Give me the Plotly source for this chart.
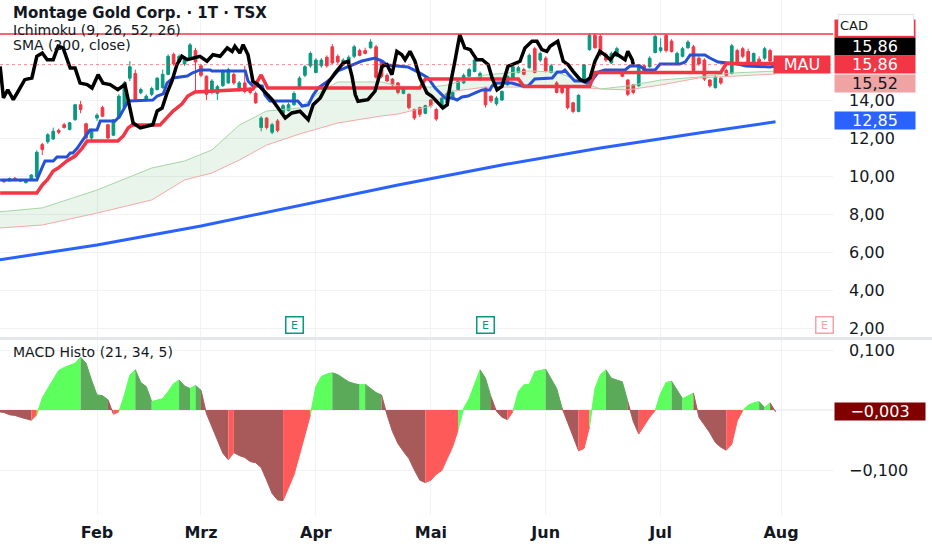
import plotly.graph_objects as go

# Montage Gold Corp. (MAU, TSX) - Tageskerzen mit Ichimoku, SMA 200 und MACD-Histogramm
# x-Achse = Bar-Index (Handelstage ab Anfang Januar, ohne Luecken wie bei TradingView)

months = ["Feb", "Mrz", "Apr", "Mai", "Jun", "Jul", "Aug"]
month_start = [18, 37, 58, 79, 100, 121, 143]
earnings_bar = [54, 89, 151]

opens = [9.72, 9.80, 9.74, 9.88, 9.80, 9.66, 9.80, 9.95, 11.65, 11.80,
         11.95, 12.40, 12.70, 12.45, 12.97, 13.75, 12.75, 12.00, 13.05, 13.60,
         12.70, 12.15, 13.05, 13.60, 15.15, 15.40, 14.38, 14.00, 14.30, 14.55,
         14.65, 15.35, 16.40, 16.00, 15.90, 16.20, 16.60, 15.80, 15.25, 14.40,
         14.35, 14.75, 14.90, 15.35, 14.55, 14.90, 14.60, 14.35, 12.55, 13.05,
         12.30, 12.90, 13.30, 13.45, 13.75, 14.65, 15.30, 15.80, 15.45, 15.80,
         16.25, 16.80, 16.30, 15.85, 15.95, 16.30, 16.60, 16.60, 16.75, 16.80,
         16.00, 15.30, 15.10, 14.90, 14.35, 14.30, 13.50, 13.60, 13.30, 14.00,
         13.50, 13.60, 13.85, 14.05, 14.55, 14.90, 15.25, 15.50, 15.10, 14.65,
         14.20, 13.80, 14.00, 14.80, 15.15, 15.45, 15.60, 15.70, 16.70, 16.10,
         16.20, 15.45, 14.90, 14.70, 14.70, 13.85, 13.40, 15.00, 16.65, 17.40,
         17.35, 16.40, 15.95, 16.30, 15.50, 15.05, 14.80, 14.75, 15.80, 15.75,
         16.50, 16.60, 17.40, 17.10, 15.90, 16.30, 16.75, 16.80, 16.20, 16.10,
         15.05, 14.65, 15.15, 15.55, 15.40, 16.60, 16.70, 16.55, 15.90, 16.15,
         16.20, 16.60, 16.05]
highs = [9.85, 9.84, 9.92, 9.95, 9.84, 9.84, 10.10, 11.35, 11.75, 12.25,
         12.55, 12.50, 12.80, 12.85, 13.80, 13.95, 12.80, 12.50, 13.30, 13.70,
         12.75, 13.00, 14.30, 15.00, 16.05, 15.60, 14.65, 14.30, 14.70, 15.20,
         15.60, 16.40, 16.50, 16.40, 16.30, 17.00, 16.75, 15.90, 15.30, 15.10,
         14.80, 15.60, 15.70, 15.45, 15.00, 15.80, 14.70, 14.45, 13.15, 13.10,
         12.80, 13.00, 13.80, 13.85, 14.45, 15.25, 15.85, 16.55, 16.20, 16.20,
         16.35, 16.95, 16.40, 16.20, 16.35, 16.90, 16.70, 16.75, 17.20, 16.90,
         16.10, 15.40, 15.15, 14.95, 14.70, 14.35, 13.55, 13.65, 13.75, 14.05,
         13.60, 14.15, 14.45, 14.50, 15.10, 15.40, 15.70, 16.20, 15.50, 14.70,
         14.25, 14.20, 14.50, 15.30, 15.85, 15.80, 15.70, 16.45, 16.80, 16.55,
         16.30, 15.90, 15.00, 14.75, 14.80, 13.90, 14.30, 15.90, 17.50, 17.50,
         17.45, 16.50, 16.55, 16.80, 15.60, 15.10, 14.85, 15.90, 15.85, 16.30,
         17.45, 17.25, 17.50, 17.20, 16.55, 16.80, 17.15, 16.90, 16.30, 16.20,
         15.10, 15.30, 15.20, 15.65, 16.95, 16.70, 16.80, 16.70, 16.50, 16.30,
         16.80, 16.70, 16.20]
lows = [9.68, 9.64, 9.70, 9.72, 9.68, 9.60, 9.76, 9.90, 11.10, 11.70,
        11.90, 12.20, 12.50, 12.40, 12.90, 13.30, 11.95, 11.90, 12.90, 13.10,
        11.95, 12.10, 13.00, 13.50, 15.00, 14.00, 14.30, 13.95, 14.20, 14.50,
        14.60, 15.30, 15.80, 15.95, 15.80, 16.10, 14.35, 15.20, 14.00, 14.30,
        14.00, 14.70, 14.85, 14.80, 14.45, 14.35, 14.30, 13.80, 12.35, 12.45,
        12.20, 12.30, 13.20, 13.40, 13.70, 14.60, 15.20, 15.70, 15.40, 15.70,
        15.70, 15.90, 15.90, 15.80, 15.90, 16.20, 16.30, 16.40, 16.70, 15.10,
        15.15, 14.95, 14.70, 14.30, 14.30, 13.50, 12.95, 13.10, 13.25, 13.60,
        12.90, 13.55, 13.80, 14.00, 14.50, 14.85, 15.20, 15.45, 15.00, 13.60,
        13.85, 13.70, 13.95, 14.75, 15.10, 15.40, 15.30, 15.65, 15.40, 16.00,
        15.45, 15.40, 14.35, 14.30, 13.50, 13.30, 13.35, 14.95, 16.60, 16.70,
        16.30, 16.00, 15.90, 16.25, 15.20, 14.20, 14.30, 14.70, 15.40, 15.70,
        16.45, 16.50, 16.50, 16.50, 15.85, 16.25, 16.70, 15.45, 15.80, 15.00,
        14.65, 14.60, 14.80, 15.25, 15.35, 15.80, 16.20, 15.90, 15.85, 15.85,
        16.10, 15.95, 15.80]
closes = [9.80, 9.70, 9.86, 9.76, 9.74, 9.80, 10.05, 11.25, 11.40, 12.17,
          12.35, 12.30, 12.55, 12.80, 13.75, 13.50, 12.00, 12.45, 13.20, 13.15,
          12.00, 12.95, 14.20, 14.90, 15.75, 14.05, 14.55, 14.20, 14.60, 15.15,
          15.35, 16.30, 15.90, 16.30, 16.25, 16.90, 16.00, 15.30, 14.30, 15.00,
          14.70, 15.50, 15.60, 14.90, 14.90, 14.45, 14.40, 13.85, 13.05, 12.55,
          12.70, 12.40, 13.70, 13.75, 14.35, 15.15, 15.75, 16.45, 16.10, 16.10,
          15.80, 15.95, 16.00, 16.10, 16.25, 16.80, 16.35, 16.45, 17.05, 15.20,
          15.25, 15.00, 14.80, 14.40, 14.60, 13.60, 13.05, 13.25, 13.70, 13.70,
          13.00, 14.10, 14.35, 14.40, 15.00, 15.30, 15.60, 16.10, 15.40, 13.75,
          13.95, 14.10, 14.45, 15.25, 15.75, 15.70, 15.35, 16.35, 15.45, 16.45,
          15.50, 15.80, 14.40, 14.40, 13.60, 13.40, 14.25, 15.85, 17.40, 16.75,
          16.40, 16.10, 16.45, 16.70, 15.25, 14.30, 14.40, 15.85, 15.50, 16.20,
          17.35, 16.75, 16.60, 16.55, 16.45, 16.70, 17.05, 15.55, 15.90, 15.10,
          14.75, 15.20, 14.90, 15.30, 16.85, 15.90, 16.30, 16.00, 16.45, 15.95,
          16.70, 16.05, 15.86]

# Ichimoku-Linien
tenkan_x = [0.3, 7.0, 8.1, 8.5, 10.0, 10.7, 12.5, 13.1, 13.6, 14.4,
            15.4, 16.7, 18.0, 18.6, 21.3, 22.2, 23.7, 28.2, 29.0, 30.1,
            30.8, 31.9, 34.5, 35.4, 36.8, 38.7, 39.0, 45.1, 45.6, 46.5,
            48.2, 48.7, 49.6, 54.7, 55.5, 56.6, 57.5, 58.4, 59.7, 60.9,
            62.0, 64.6, 66.4, 68.8, 70.1, 71.0, 72.5, 74.8, 76.7, 78.5,
            79.8, 81.0, 81.6, 82.9, 83.8, 84.7, 85.8, 87.1, 88.4, 89.8,
            90.2, 91.1, 93.8, 94.4, 95.7, 96.8, 98.0, 101.2, 102.1, 103.0,
            103.5, 104.1, 105.3, 106.6, 107.5, 108.5, 109.6, 110.8, 114.5, 115.4,
            117.2, 118.2, 120.0, 120.9, 124.5, 125.5, 126.4, 129.1, 130.0, 131.5,
            132.8, 135.1, 136.6, 141.0, 142.0]
tenkan = [9.79, 9.79, 10.53, 10.79, 10.79, 11.00, 11.00, 11.21, 11.21, 11.47,
          11.89, 12.42, 12.42, 12.89, 12.89, 13.16, 13.95, 14.00, 14.21, 14.32,
          14.89, 15.16, 15.26, 15.42, 15.58, 15.58, 15.53, 15.53, 15.00, 14.74,
          14.74, 14.26, 13.95, 13.95, 13.68, 13.74, 14.26, 14.63, 14.89, 15.16,
          15.53, 15.84, 16.05, 16.21, 16.05, 15.84, 15.79, 15.74, 15.47, 15.16,
          14.63, 14.26, 14.11, 14.11, 14.00, 14.16, 14.21, 14.37, 14.53, 14.53,
          14.74, 14.89, 14.89, 14.84, 14.74, 14.74, 15.11, 15.16, 15.47, 15.47,
          15.58, 15.37, 15.00, 15.00, 14.89, 15.05, 15.47, 15.58, 15.58, 15.79,
          15.79, 15.58, 15.58, 15.89, 15.89, 16.00, 16.37, 16.37, 16.21, 16.00,
          15.95, 15.89, 15.79, 15.74, 15.79]

kijun_x = [0.3, 7.0, 8.0, 8.9, 10.0, 10.9, 12.5, 14.0, 15.3, 16.2,
           21.8, 22.8, 23.7, 24.4, 29.5, 30.4, 31.9, 33.5, 34.6, 35.9,
           46.5, 48.0, 49.2, 77.0, 78.0, 95.0, 96.0, 108.0, 109.0, 132.0,
           133.0, 142.0]
kijun = [9.11, 9.11, 9.53, 9.79, 10.26, 10.42, 10.79, 11.05, 11.47, 11.84,
         11.84, 12.11, 12.53, 12.68, 12.68, 12.95, 13.42, 13.79, 14.21, 14.42,
         14.58, 15.32, 14.63, 14.63, 15.11, 15.11, 14.71, 14.71, 15.45, 15.45,
         15.92, 15.92]

chikou_x = [0.3, 0.9, 1.7, 2.7, 3.6, 4.8, 6.1, 7.0, 8.0, 8.9,
            10.0, 10.9, 11.8, 13.1, 14.0, 14.9, 16.2, 17.1, 18.2, 19.1,
            20.4, 21.8, 23.1, 23.7, 24.6, 25.9, 27.3, 28.2, 29.0, 29.9,
            30.8, 31.7, 32.6, 33.5, 34.5, 35.6, 36.8, 38.1, 39.2, 40.5,
            41.8, 42.7, 43.2, 44.1, 44.7, 45.6, 46.5, 47.4, 48.3, 50.0,
            51.1, 52.4, 53.6, 55.1, 56.6, 57.5, 58.8, 60.2, 61.5, 63.0,
            63.9, 64.6, 65.2, 65.7, 67.5, 68.8, 70.1, 71.0, 71.9, 72.8,
            73.7, 74.3, 75.2, 76.1, 77.0, 78.3, 79.2, 80.1, 81.2, 82.0,
            82.5, 83.4, 84.3, 85.2, 86.2, 87.4, 88.4, 89.5, 90.2, 91.1,
            92.0, 93.1, 94.4, 95.3, 96.2, 97.5, 98.4, 99.3, 100.2, 100.8,
            101.7, 102.2, 103.2, 104.1, 105.0, 106.3, 107.2, 108.1, 109.0, 109.9,
            110.8, 111.8, 112.7, 113.6, 114.5, 115.0, 115.8, 116.0]
chikou = [15.77, 14.11, 14.54, 14.02, 14.46, 15.07, 15.16, 16.30, 16.47, 16.12,
          16.12, 16.83, 16.74, 15.68, 15.68, 14.89, 14.81, 14.63, 15.33, 14.89,
          14.81, 14.54, 14.81, 13.95, 12.79, 12.53, 12.63, 12.70, 13.42, 13.58,
          14.37, 15.00, 15.86, 16.30, 16.12, 16.21, 16.30, 16.04, 16.38, 16.30,
          16.74, 16.56, 16.83, 16.47, 16.91, 16.38, 14.98, 14.81, 14.54, 14.02,
          13.58, 13.05, 13.32, 13.41, 12.96, 13.75, 14.11, 14.89, 15.42, 15.95,
          16.04, 15.25, 14.28, 13.93, 14.02, 14.46, 15.77, 15.86, 15.33, 16.56,
          16.38, 16.12, 16.56, 16.04, 15.16, 14.37, 14.19, 13.93, 13.58, 13.75,
          14.72, 16.04, 17.44, 16.74, 16.65, 16.12, 16.12, 15.86, 15.16, 14.54,
          14.72, 15.77, 15.95, 16.04, 16.74, 17.09, 17.09, 16.65, 16.56, 16.83,
          17.00, 17.09, 16.04, 15.86, 15.51, 15.07, 14.98, 15.16, 16.04, 16.56,
          16.38, 16.12, 16.47, 16.30, 16.12, 16.56, 16.12, 15.86]

cloud_x = [0, 8, 18, 28, 34, 39, 44, 49, 55, 59, 62, 70, 73, 79, 82, 89, 97,
           102, 108, 110, 115, 121, 128, 134, 142]
span_a = [8.11, 8.32, 9.26, 10.42, 10.79, 11.37, 12.68, 13.42, 13.58, 14.47, 14.95,
          14.95, 14.74, 14.68, 14.79, 15.32, 15.53, 15.47, 14.79, 14.58, 14.74, 15.05,
          15.21, 15.42, 15.52]
span_b = [7.26, 7.42, 8.05, 8.74, 9.79, 10.16, 10.84, 11.63, 12.21, 12.53, 12.79,
          13.16, 13.26, 13.68, 14.42, 14.68, 14.68, 14.68, 14.63, 14.58, 14.53, 14.79,
          15.16, 15.26, 15.37]

sma_x = [0, 18, 37, 55, 73, 92, 110, 128, 142]
sma_200 = [5.58, 6.37, 7.37, 8.47, 9.53, 10.58, 11.47, 12.26, 12.85]

resistance = 17.47

macd_hist = [-0.003, -0.004, -0.008, -0.009, -0.012, -0.015, -0.017, -0.008, 0.020, 0.036,
             0.050, 0.066, 0.071, 0.074, 0.078, 0.088, 0.078, 0.050, 0.025, 0.024,
             0.017, -0.007, -0.003, 0.025, 0.058, 0.067, 0.046, 0.039, 0.014, 0.017,
             0.019, 0.031, 0.044, 0.050, 0.040, 0.036, 0.041, 0.033, -0.006, -0.028,
             -0.050, -0.072, -0.083, -0.071, -0.076, -0.079, -0.086, -0.088, -0.096, -0.117,
             -0.139, -0.150, -0.151, -0.128, -0.108, -0.075, -0.042, -0.008, 0.039, 0.056,
             0.060, 0.062, 0.059, 0.053, 0.047, 0.044, 0.042, 0.043, 0.036, 0.029,
             0.025, -0.008, -0.036, -0.056, -0.069, -0.081, -0.100, -0.117, -0.121, -0.117,
             -0.107, -0.101, -0.081, -0.061, -0.033, 0.003, 0.019, 0.042, 0.067, 0.053,
             0.022, -0.002, -0.012, -0.016, -0.003, 0.031, 0.042, 0.043, 0.064, 0.066,
             0.068, 0.053, 0.036, 0.003, -0.022, -0.044, -0.068, -0.064, -0.028, 0.036,
             0.059, 0.067, 0.053, 0.050, 0.047, 0.014, -0.019, -0.040, -0.025, -0.012,
             -0.001, 0.028, 0.046, 0.048, 0.034, 0.019, 0.023, 0.028, -0.012, -0.025,
             -0.038, -0.054, -0.062, -0.067, -0.057, -0.018, -0.001, 0.008, 0.012, 0.014,
             0.004, 0.012, -0.003]

# Pixelmasse des Plotbereichs (fuer Texte und Labels)
W, H = 932, 550
PW, PH = 833, 515
TXT = "#131722"
GRID = "#f0f2f6"
RED = "#f23645"


def px(x):
    return x / PW


def py(y):
    return (PH - y) / PH


def num(v, d):
    return f"{v:.{d}f}".replace(".", ",").replace("-", "\u2212")


bars = list(range(len(closes)))
fig = go.Figure()

# Kumo
fig.add_trace(go.Scatter(x=cloud_x, y=span_b, mode="lines", line=dict(color="#f6a9a9", width=1)))
fig.add_trace(go.Scatter(x=cloud_x, y=span_a, mode="lines", line=dict(color="#a5d6a7", width=1),
                         fill="tonexty", fillcolor="rgba(76,175,80,0.12)"))
# SMA 200
fig.add_trace(go.Scatter(x=sma_x, y=sma_200, mode="lines", line=dict(color="#2962ff", width=3)))
# Kerzen
fig.add_trace(go.Candlestick(
    x=bars, open=opens, high=highs, low=lows, close=closes,
    increasing=dict(line=dict(color="#089981", width=1), fillcolor="#089981"),
    decreasing=dict(line=dict(color=RED, width=1), fillcolor=RED),
    whiskerwidth=0,
))
fig.add_trace(go.Scatter(x=tenkan_x, y=tenkan, mode="lines", line=dict(color="#2451d6", width=3)))
fig.add_trace(go.Scatter(x=kijun_x, y=kijun, mode="lines", line=dict(color=RED, width=3.5)))
fig.add_trace(go.Scatter(x=chikou_x, y=chikou, mode="lines", line=dict(color="black", width=3.5)))


# MACD-Histogramm als Flaeche: hell = steigend, dunkel = fallend
def hist_color(i):
    v = macd_hist[i]
    p = macd_hist[i - 1] if i > 0 else v
    up = v >= p
    if v >= 0:
        return "#5cff5c" if up else "#5aaa5a"
    return "#ff5a5a" if up else "#a85a5a"


cols = [hist_color(i) for i in bars]
start = 0
for i in range(1, len(cols) + 1):
    if i == len(cols) or cols[i] != cols[start]:
        s = max(start - 1, 0)
        fig.add_trace(go.Scatter(
            x=bars[s:i], y=macd_hist[s:i], mode="lines", fill="tozeroy",
            fillcolor=cols[start], line=dict(color=cols[start], width=1),
            xaxis="x2", yaxis="y2",
        ))
        start = i

xr = [0.274, 152.5]
fig.update_layout(
    width=W, height=H,
    margin=dict(l=0, r=W - PW, t=0, b=H - PH),
    paper_bgcolor="white", plot_bgcolor="white",
    showlegend=False, hovermode=False, separators=",.",
    font=dict(family="DejaVu Sans", color=TXT),
    xaxis=dict(domain=[0, 1], range=xr, tickvals=month_start, showticklabels=False,
               showgrid=True, gridcolor=GRID, zeroline=False, anchor="y",
               rangeslider=dict(visible=False)),
    xaxis2=dict(domain=[0, 1], range=xr, matches="x", tickvals=month_start, ticktext=months,
                tickfont=dict(size=16, weight="bold", color=TXT), ticks="", ticklabelstandoff=6,
                showgrid=True, gridcolor=GRID, zeroline=False, anchor="y2"),
    yaxis=dict(domain=[py(338), 1], range=[1.474, 19.263], side="right",
               tickvals=[2, 4, 6, 8, 10, 12, 14], tickformat=".2f", ticks="",
               ticklabelstandoff=15, tickfont=dict(size=16, color=TXT),
               showgrid=True, gridcolor=GRID, zeroline=False, anchor="x"),
    yaxis2=dict(domain=[0, py(340)], range=[-0.175, 0.1167], side="right",
                tickvals=[-0.1, 0.1], tickformat=".3f", ticks="",
                ticklabelstandoff=15, tickfont=dict(size=16, color=TXT),
                showgrid=True, gridcolor=GRID, zeroline=True, zerolinecolor=GRID,
                anchor="x2"),
)

# Linien: Widerstand, letzter Kurs, Trenner zwischen den Panels
fig.add_shape(type="line", xref="paper", x0=0, x1=1, yref="y", y0=resistance, y1=resistance,
              line=dict(color=RED, width=1.5))
fig.add_shape(type="line", xref="paper", x0=0, x1=1, yref="y", y0=closes[-1], y1=closes[-1],
              line=dict(color="rgba(242,54,69,0.6)", width=1, dash="dot"))
fig.add_shape(type="line", xref="paper", x0=0, x1=W / PW, yref="paper", y0=py(338.5), y1=py(338.5),
              line=dict(color="#e4e6ec", width=3))

# Titel und Indikator-Namen
fig.add_annotation(xref="paper", yref="paper", x=px(11), y=py(13), xanchor="left", yanchor="middle",
                   text="<b>Montage Gold Corp. · 1T · TSX</b>", showarrow=False,
                   font=dict(size=15, color=TXT))
for ypix, label in [(30, "Ichimoku (9, 26, 52, 26)"), (45, "SMA (200, close)"),
                    (352, "MACD Histo (21, 34, 5)")]:
    fig.add_annotation(xref="paper", yref="paper", x=px(11), y=py(ypix), xanchor="left",
                       yanchor="middle", text=label, showarrow=False, font=dict(size=14, color=TXT))

# Earnings-Marker
for b in earnings_bar:
    c = "#089981" if b <= bars[-1] else "#f7a1a8"
    fig.add_annotation(xref="x", yref="paper", x=b, y=py(325), text="E", showarrow=False,
                       font=dict(size=11, color=c), bgcolor="white", bordercolor=c,
                       borderwidth=1.5, width=14, height=13)


# Kurslabels an der Preisachse
def value_label(y, text, bg, fg="white", yref="y", shift=0, width=78):
    fig.add_annotation(xref="paper", x=1, xanchor="left", xshift=1, yref=yref, y=y, yshift=shift,
                       yanchor="middle", text=text, showarrow=False, bgcolor=bg,
                       font=dict(size=16, color=fg), width=width, height=15, borderpad=1)


value_label(kijun[-1], num(kijun[-1], 2), RED, shift=35)
value_label(chikou[-1], num(chikou[-1], 2), "black", shift=18)
value_label(closes[-1], num(closes[-1], 2), RED)
value_label(span_a[-1], num(span_a[-1], 2), "#f0a3a3", fg=TXT, shift=-12.5)
value_label(sma_200[-1], num(sma_200[-1], 2), "#2962ff", shift=1)
value_label(macd_hist[-1], num(macd_hist[-1], 3), "#800000", yref="y2", width=88)

fig.add_annotation(xref="paper", x=1, xanchor="right", xshift=-2, yref="y", y=closes[-1],
                   text="MAU", showarrow=False, bgcolor=RED, font=dict(size=16, color="white"),
                   width=54, height=15, borderpad=1)
fig.add_annotation(xref="paper", x=px(838), xanchor="left", yref="paper", y=py(14),
                   text="CAD", showarrow=False, bgcolor="white", bordercolor="#e0e3eb",
                   borderwidth=1, font=dict(size=13, color=TXT), width=72, height=18, align="left")

# Seitenrand des Browsers entfernen, damit die Grafik bei (0,0) beginnt
fig.write_html("out.html", config={"displayModeBar": False},
               post_script="document.body.style.margin='0';")
